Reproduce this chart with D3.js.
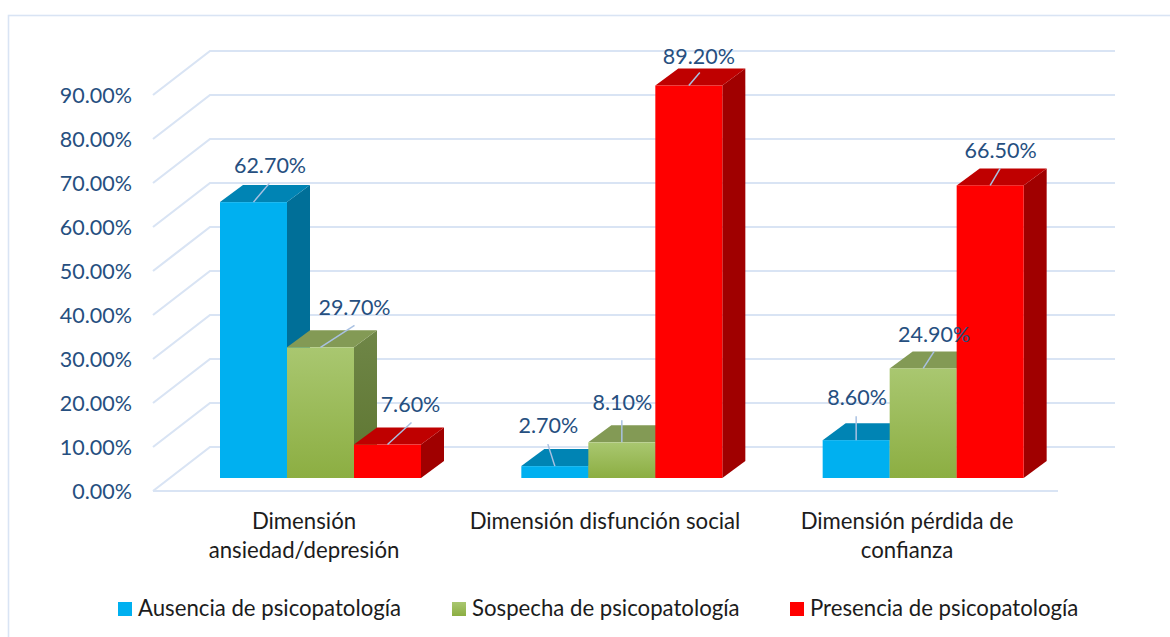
<!DOCTYPE html>
<html><head><meta charset="utf-8">
<script src="https://cdn.jsdelivr.net/npm/d3@7/dist/d3.min.js"></script>
<style>html,body{margin:0;padding:0;background:#fff}svg{display:block}text{font-family:Lato,"Open Sans",sans-serif}</style>
</head><body><svg id="c" width="1170" height="637"></svg>
<script>
const categories=[["Dimensión","ansiedad/depresión"],["Dimensión disfunción social"],["Dimensión pérdida de","confianza"]];
const seriesNames=["Ausencia de psicopatología","Sospecha de psicopatología","Presencia de psicopatología"];
const ausencia=[62.7,2.7,8.6];
const sospecha=[29.7,8.1,24.9];
const presencia=[7.6,89.2,66.5];
const yTicks=[0,10,20,30,40,50,60,70,80,90];
const series=[ausencia,sospecha,presencia];

const svg=d3.select("#c");
const defs=svg.append("defs");
const grad=(id,a,b)=>{const g=defs.append("linearGradient").attr("id",id).attr("x1",0).attr("y1",0).attr("x2",0).attr("y2",1);
 g.append("stop").attr("offset",0).attr("stop-color",a);g.append("stop").attr("offset",1).attr("stop-color",b);};
grad("gf","#a9c770","#8cae42");grad("gs","#6f8647","#5d7530");
const styles=[
 {front:"#00b0f0",top:"#0084b4",side:"#006f98",legend:"#00b0f0"},
 {front:"url(#gf)",top:"#839a55",side:"url(#gs)",legend:"url(#gf)"},
 {front:"#ff0000",top:"#bf0000",side:"#a00000",legend:"#ff0000"}];

svg.append("rect").attr("x",8.5).attr("y",15.5).attr("width",1200).attr("height",700).attr("fill","none").attr("stroke","#d9e4f4").attr("stroke-width",1.6);

const y=d3.scaleLinear().domain([0,90]).range([491,95]);
const yBar=d3.scaleLinear().domain([0,90]).range([478,82]);
const groups=d3.scaleBand().domain([0,1,2]).range([170,1074]);
const inner=d3.scaleBand().domain([0,1,2]).range([0,201]);
const wallDx=57, wallDy=-44, barDx=23, barDy=-17, wallRight=1115, floorRight=1058;

const grid=svg.append("g").attr("fill","none").attr("stroke","#d9e4f4").attr("stroke-width",2.2);
yTicks.forEach(t=>{
 const p=d3.path();p.moveTo(153,y(t));
 p.lineTo(153+wallDx,y(t)+wallDy);p.lineTo(wallRight,y(t)+wallDy);
 grid.append("path").attr("d",p);
});
grid.append("line").attr("x1",153).attr("x2",floorRight).attr("y1",y(0)).attr("y2",y(0));

svg.append("g").selectAll("text").data(yTicks).join("text")
 .attr("x",132).attr("y",t=>y(t)+8).attr("text-anchor","end")
 .attr("font-size",21.5).attr("fill","#264f80").text(t=>t.toFixed(2)+"%");

const poly=pts=>d3.line()(pts)+"Z";
const labelOffsets=[[[16.5,-29],[34,-32],[23,-33]],[[-6.5,-33],[0.5,-32],[10,-22]],[[1,-35],[11,-26],[10.5,-27]]];
const leaderEnd=[[[16,-19],[34,-22],[24,-22]],[[-7,-22],[0,-22],[11,-13]],[[0,-24],[11,-17],[10,-17]]];
categories.forEach((c,gi)=>{
 const gx=groups(gi)+50;
 const g=svg.append("g");
 [0,1,2].forEach(si=>{
  const v=series[si][gi], x0=gx+inner(si), w=inner.bandwidth(), yt=yBar(v), yb=yBar(0);
  const s=styles[si];
  g.append("path").attr("d",poly([[x0+w,yb],[x0+w+barDx,yb+barDy],[x0+w+barDx,yt+barDy],[x0+w,yt]])).attr("fill",s.side);
  g.append("path").attr("d",poly([[x0,yt],[x0+barDx,yt+barDy],[x0+w+barDx,yt+barDy],[x0+w,yt]])).attr("fill",s.top);
  g.append("rect").attr("x",x0).attr("y",yt).attr("width",w).attr("height",yb-yt).attr("fill",s.front);
 });
});
categories.forEach((c,gi)=>{
 const gx=groups(gi)+50;
 series.forEach((arr,si)=>{
  const v=arr[gi], x0=gx+inner(si), w=inner.bandwidth(), yt=yBar(v), cx=x0+w/2;
  const [ex,ey]=leaderEnd[gi][si], [lx,ly]=labelOffsets[gi][si];
  svg.append("line").attr("x1",cx).attr("y1",yt).attr("x2",cx+ex).attr("y2",yt+ey).attr("stroke","#a9c1e2").attr("stroke-width",1.5);
  svg.append("text").attr("x",cx+lx).attr("y",yt+ly).attr("text-anchor","middle").attr("font-size",21.5).attr("fill","#264f80").text(v.toFixed(2)+"%");
 });
});
const catX=[304,605,907];
categories.forEach((c,i)=>{
 const t=svg.append("text").attr("text-anchor","middle").attr("font-size",22.2).attr("fill","#1c1c1c");
 c.forEach((l,j)=>t.append("tspan").attr("x",catX[i]).attr("y",529+j*29).text(l));
});
const legX=[118,452,790];
seriesNames.forEach((n,i)=>{
 svg.append("rect").attr("x",legX[i]).attr("y",602).attr("width",14).attr("height",14).attr("fill",styles[i].legend);
 svg.append("text").attr("x",legX[i]+20).attr("y",616).attr("font-size",22.2).attr("fill","#1c1c1c").text(n);
});
</script></body></html>
